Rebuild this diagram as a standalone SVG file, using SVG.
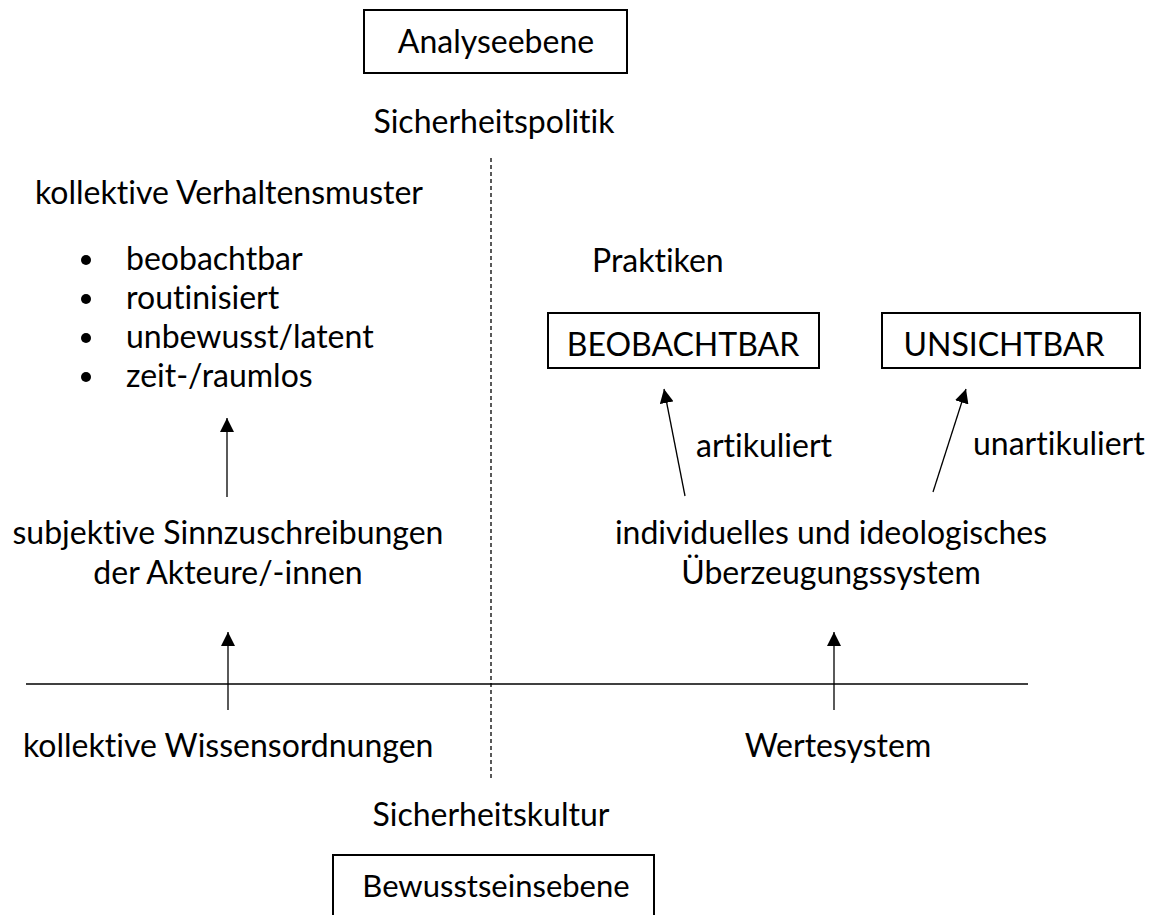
<svg xmlns="http://www.w3.org/2000/svg" width="1157" height="915" viewBox="0 0 1157 915">
<style>
text{font-family:Lato,"Open Sans",sans-serif;font-size:32px;fill:#000;font-variant-ligatures:none}
.box{fill:#fff;stroke:#000;stroke-width:2}
.ln{stroke:#000;stroke-width:1.3;fill:none}
.c{text-anchor:middle}
</style>
<defs>
<marker id="ah" viewBox="0 0 10 10" refX="10" refY="5" markerWidth="14" markerHeight="14" markerUnits="userSpaceOnUse" orient="auto">
<path d="M0,0 L10,5 L0,10 z" fill="#000"/>
</marker>
</defs>
<rect width="1157" height="915" fill="#fff"/>
<g id="connectors">
<line class="ln" x1="491" y1="158" x2="491" y2="778" stroke-dasharray="4,3"/>
<line class="ln" x1="26" y1="684" x2="1028" y2="684"/>
<line class="ln" x1="227" y1="497" x2="227" y2="418" marker-end="url(#ah)"/>
<line class="ln" x1="228" y1="710" x2="228" y2="632" marker-end="url(#ah)"/>
<line class="ln" x1="834" y1="710" x2="834" y2="632" marker-end="url(#ah)"/>
<line class="ln" x1="685" y1="496" x2="664" y2="389" marker-end="url(#ah)"/>
<line class="ln" x1="933" y1="492" x2="966" y2="389" marker-end="url(#ah)"/>
</g>
<g id="analyseebene"><rect class="box" x="364" y="10" width="263" height="63"/><text class="c" x="496" y="53">Analyseebene</text></g>
<g id="sicherheitspolitik"><text class="c" x="494" y="133">Sicherheitspolitik</text></g>
<g id="verhaltensmuster"><text x="35" y="204">kollektive Verhaltensmuster</text>
<circle cx="86" cy="260" r="5"/><text x="126" y="270">beobachtbar</text>
<circle cx="86" cy="299" r="5"/><text x="126" y="309">routinisiert</text>
<circle cx="86" cy="338" r="5"/><text x="126" y="348">unbewusst/latent</text>
<circle cx="86" cy="377" r="5"/><text x="126" y="387">zeit-/raumlos</text></g>
<g id="sinnzuschreibungen"><text class="c" x="228" y="544">subjektive Sinnzuschreibungen</text><text class="c" x="228" y="584">der Akteure/-innen</text></g>
<g id="wissensordnungen"><text x="23" y="757">kollektive Wissensordnungen</text></g>
<g id="sicherheitskultur"><text class="c" x="491" y="826">Sicherheitskultur</text></g>
<g id="bewusstseinsebene"><rect class="box" x="333" y="855" width="321" height="80"/><text class="c" x="496" y="897" style="font-size:31px">Bewusstseinsebene</text></g>
<g id="praktiken"><text x="592" y="272">Praktiken</text></g>
<g id="beobachtbar"><rect class="box" x="548" y="313" width="271" height="55"/><text class="c" x="683" y="356">BEOBACHTBAR</text></g>
<g id="unsichtbar"><rect class="box" x="882" y="313" width="258" height="55"/><text class="c" x="1004" y="356">UNSICHTBAR</text></g>
<g id="artikuliert"><text x="696" y="457">artikuliert</text></g>
<g id="unartikuliert"><text x="973" y="455">unartikuliert</text></g>
<g id="ueberzeugung"><text class="c" x="831" y="544">individuelles und ideologisches</text><text class="c" x="831" y="584">Überzeugungssystem</text></g>
<g id="wertesystem"><text class="c" x="838" y="757">Wertesystem</text></g>
</svg>
